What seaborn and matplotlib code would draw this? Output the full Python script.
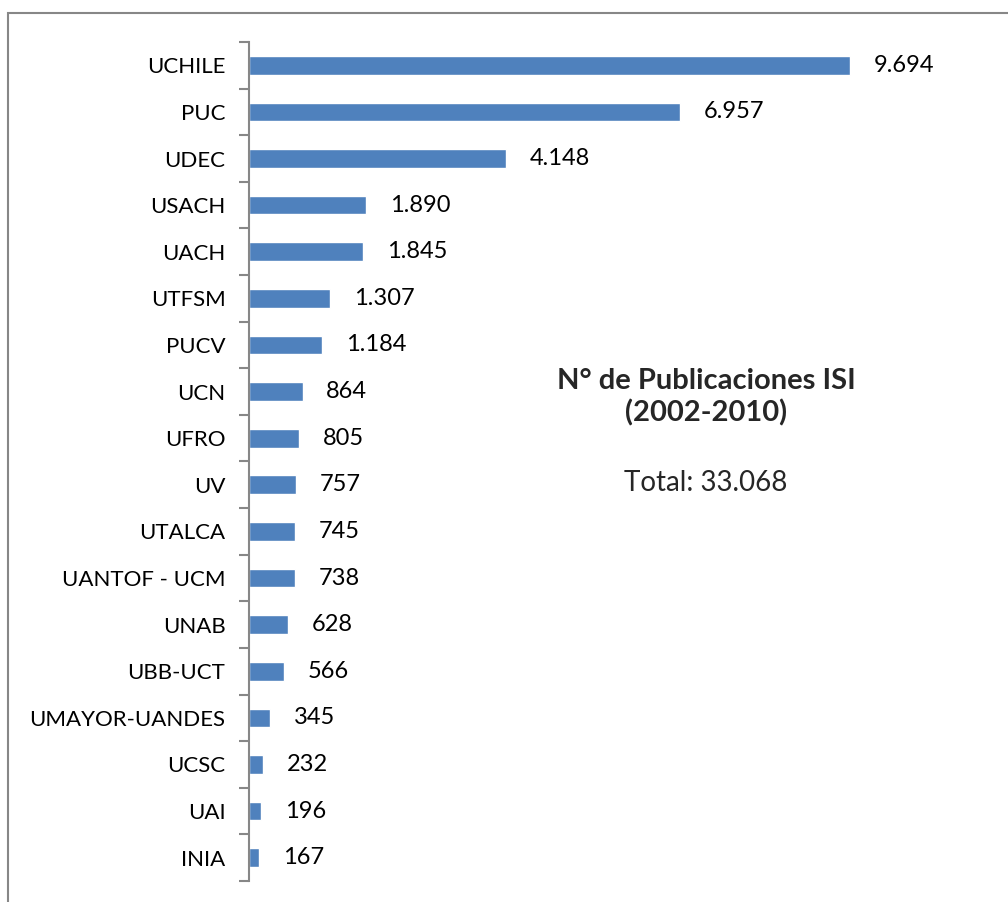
import pandas as pd
import matplotlib.pyplot as plt
import seaborn as sns
from matplotlib.patches import Rectangle
from matplotlib.ticker import FixedLocator

universidades = ['UCHILE', 'PUC', 'UDEC', 'USACH', 'UACH', 'UTFSM', 'PUCV', 'UCN',
                 'UFRO', 'UV', 'UTALCA', 'UANTOF - UCM', 'UNAB', 'UBB-UCT',
                 'UMAYOR-UANDES', 'UCSC', 'UAI', 'INIA']
publicaciones = [9694, 6957, 4148, 1890, 1845, 1307, 1184, 864,
                 805, 757, 745, 738, 628, 566, 345, 232, 196, 167]
total = 33068

dados = pd.DataFrame({'univ': universidades, 'pub': publicaciones})

sns.set_style("white")
plt.rcParams['font.family'] = ['Lato', 'DejaVu Sans']


def miles(v):
    return f"{v:,}".replace(',', '.')


fig = plt.figure(figsize=(10.08, 9.02), dpi=100)
ax = fig.add_axes([249 / 1008, 1 - 881 / 902, 744 / 1008, 839 / 902])

sns.barplot(data=dados, x='pub', y='univ', orient='h', color='#4F81BD',
            saturation=1, width=0.4, ax=ax)

ax.set_xlim(0, 12000)
ax.set_ylim(len(universidades) - 0.5, -0.5)

for i, v in enumerate(publicaciones):
    ax.annotate(miles(v), (v, i), xytext=(17, 0), textcoords='offset points',
                va='center', ha='left', fontsize=17, color='black')

# ejes
for lado in ['top', 'right', 'bottom']:
    ax.spines[lado].set_visible(False)
ax.spines['left'].set_color('#878787')
ax.spines['left'].set_linewidth(1.5)
ax.set_xticks([])
ax.set_xlabel('')
ax.set_ylabel('')
ax.tick_params(axis='y', which='major', left=True, length=0, labelsize=16, pad=17,
               labelcolor='black')
ax.yaxis.set_minor_locator(FixedLocator([i - 0.5 for i in range(len(universidades) + 1)]))
ax.tick_params(axis='y', which='minor', left=True, length=7, width=1.5,
               color='#878787', direction='out')

# texto
fig.text(706 / 1008, 1 - 381 / 902, 'N° de Publicaciones ISI', ha='center', va='center',
         fontsize=21, fontweight='bold')
fig.text(706 / 1008, 1 - 413 / 902, '(2002-2010)', ha='center', va='center',
         fontsize=21, fontweight='bold')
fig.text(706 / 1008, 1 - 483 / 902, 'Total: ' + miles(total), ha='center', va='center',
         fontsize=20)

# marco
fig.patches.append(Rectangle((8 / 1008, -0.1), 1.2, 0.1 + 1 - 13 / 902,
                             transform=fig.transFigure, fill=False,
                             edgecolor='#878787', linewidth=1.5))

plt.savefig('out.png', dpi=100)
